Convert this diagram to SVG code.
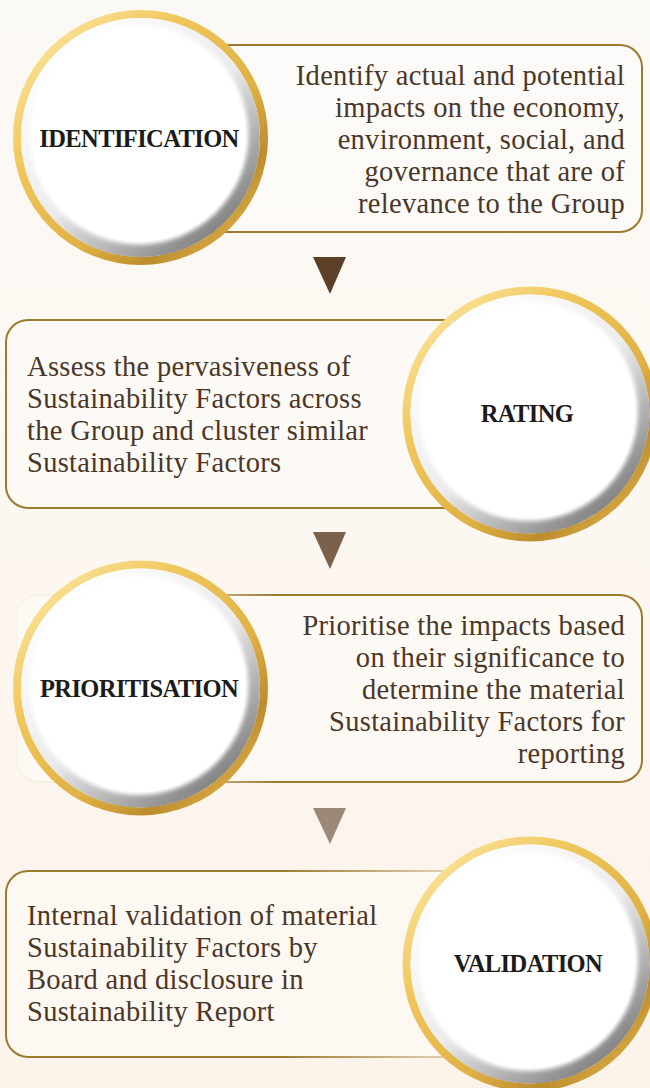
<svg xmlns="http://www.w3.org/2000/svg" width="650" height="1088" viewBox="0 0 650 1088">
  <defs>
    <linearGradient id="bg" x1="0" y1="0" x2="0" y2="1">
      <stop offset="0" stop-color="#fbf9f5"/>
      <stop offset="0.5" stop-color="#fcf7f0"/>
      <stop offset="1" stop-color="#fcf3ea"/>
    </linearGradient>
    <!-- gold rim of each badge -->
    <linearGradient id="gold" x1="0.15" y1="0" x2="0.95" y2="0.85">
      <stop offset="0" stop-color="#fbe59e"/>
      <stop offset="0.3" stop-color="#f0c75c"/>
      <stop offset="0.65" stop-color="#e0b144"/>
      <stop offset="0.85" stop-color="#bd8d2d"/>
      <stop offset="1" stop-color="#d9ab45"/>
    </linearGradient>
    <!-- grey bevel under the white face -->
    <linearGradient id="bevel" x1="0.15" y1="0.1" x2="0.85" y2="0.95">
      <stop offset="0" stop-color="#ffffff"/>
      <stop offset="0.5" stop-color="#ebebeb"/>
      <stop offset="1" stop-color="#767676"/>
    </linearGradient>
    <filter id="soft" x="-10%" y="-10%" width="120%" height="120%">
      <feGaussianBlur stdDeviation="2"/>
    </filter>
    <!-- box outlines that fade where they pass behind a badge -->
    <linearGradient id="fadeLeft" gradientUnits="userSpaceOnUse" x1="17" y1="0" x2="280" y2="0">
      <stop offset="0" stop-color="#9c7a2e" stop-opacity="0.03"/>
      <stop offset="0.5" stop-color="#9c7a2e" stop-opacity="0.2"/>
      <stop offset="1" stop-color="#9c7a2e" stop-opacity="1"/>
    </linearGradient>
    <linearGradient id="fadeRight" gradientUnits="userSpaceOnUse" x1="6" y1="0" x2="460" y2="0">
      <stop offset="0" stop-color="#9c7a2e" stop-opacity="1"/>
      <stop offset="0.6" stop-color="#9c7a2e" stop-opacity="1"/>
      <stop offset="1" stop-color="#9c7a2e" stop-opacity="0.25"/>
    </linearGradient>
    <g id="badge">
      <circle r="123.5" fill="none" stroke="url(#gold)" stroke-width="8"/>
      <circle r="119.5" fill="url(#bevel)"/>
      <circle cx="-1.5" cy="-2.5" r="109.5" fill="#ffffff" filter="url(#soft)"/>
      <circle cx="-1.5" cy="-2.5" r="106.5" fill="#ffffff"/>
    </g>
  </defs>
  <style>
    .box { fill: #ffffff; fill-opacity: 0.35; stroke: #9c7a2e; stroke-width: 2; }
    .box.fl { stroke: url(#fadeLeft); }
    .box.fr { stroke: url(#fadeRight); }
    .desc { font-family: "Liberation Serif", "Times New Roman", serif; font-size: 28.5px; letter-spacing: 0.3px; fill: #4b3727; }
    .desc.r { text-anchor: end; }
    .label { font-family: "Liberation Serif", "Times New Roman", serif; font-size: 24.5px; font-weight: bold; letter-spacing: -0.6px; fill: #1b1b1b; text-anchor: middle; dominant-baseline: central; }
  </style>

  <rect width="650" height="1088" fill="url(#bg)"/>

  <!-- step arrows -->
  <g id="connectors">
    <polygon points="313,257 346,257 330,294" fill="#5b3f27"/>
    <polygon points="313,532 346,532 330,569" fill="#7b604b"/>
    <polygon points="313,808 346,808 330,844" fill="#9b8878"/>
  </g>

  <!-- step 1 -->
  <g id="identification">
    <rect class="box" x="180" y="45" width="462" height="187" rx="22"/>
    <use href="#badge" x="140.5" y="137.5"/>
    <text class="label" x="139" y="138">IDENTIFICATION</text>
    <text class="desc r" x="625" y="85">Identify actual and potential</text>
    <text class="desc r" x="625" y="117">impacts on the economy,</text>
    <text class="desc r" x="625" y="149">environment, social, and</text>
    <text class="desc r" x="625" y="181">governance that are of</text>
    <text class="desc r" x="625" y="213">relevance to the Group</text>
  </g>

  <!-- step 2 -->
  <g id="rating">
    <rect class="box" x="6" y="320" width="560" height="188" rx="22"/>
    <use href="#badge" x="530" y="414"/>
    <text class="label" x="527" y="413">RATING</text>
    <text class="desc" x="27" y="376">Assess the pervasiveness of</text>
    <text class="desc" x="27" y="408">Sustainability Factors across</text>
    <text class="desc" x="27" y="440">the Group and cluster similar</text>
    <text class="desc" x="27" y="472">Sustainability Factors</text>
  </g>

  <!-- step 3 -->
  <g id="prioritisation">
    <rect class="box fl" x="17" y="595" width="625" height="187" rx="22"/>
    <use href="#badge" x="140.5" y="688"/>
    <text class="label" x="139" y="688">PRIORITISATION</text>
    <text class="desc r" x="625" y="635">Prioritise the impacts based</text>
    <text class="desc r" x="625" y="667">on their significance to</text>
    <text class="desc r" x="625" y="699">determine the material</text>
    <text class="desc r" x="625" y="731">Sustainability Factors for</text>
    <text class="desc r" x="625" y="763">reporting</text>
  </g>

  <!-- step 4 -->
  <g id="validation">
    <rect class="box fr" x="6" y="871" width="560" height="186" rx="22"/>
    <use href="#badge" x="530" y="964"/>
    <text class="label" x="528" y="963">VALIDATION</text>
    <text class="desc" x="27" y="925">Internal validation of material</text>
    <text class="desc" x="27" y="957">Sustainability Factors by</text>
    <text class="desc" x="27" y="989">Board and disclosure in</text>
    <text class="desc" x="27" y="1021">Sustainability Report</text>
  </g>
</svg>
